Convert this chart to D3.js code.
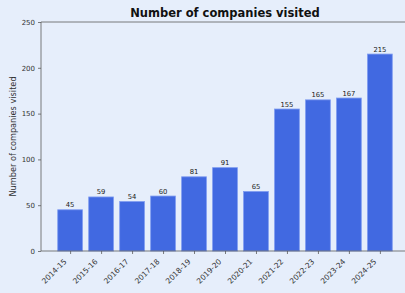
<!DOCTYPE html>
<html><head><meta charset="utf-8">
<script src="https://cdn.jsdelivr.net/npm/d3@7"></script>
<style>html,body{margin:0;padding:0;background:#e6eefb;}svg{display:block;font-family:"DejaVu Sans",sans-serif;}</style>
</head><body>
<script>
const categories = ["2014-15","2015-16","2016-17","2017-18","2018-19","2019-20","2020-21","2021-22","2022-23","2023-24","2024-25"];
const values = [45,59,54,60,81,91,65,155,165,167,215];
const yTicks = [0,50,100,150,200,250];

const W = 405, H = 293;
const svg = d3.select("body").append("svg").attr("width", W).attr("height", H);
svg.append("rect").attr("width", W).attr("height", H).attr("fill", "#e6eefb");

const mL = 41, mR = 409, mT = 22, mB = 251;
const x = d3.scaleLinear().domain([-0.94, categories.length - 1 + 0.94]).range([mL, mR]);
const y = d3.scaleLinear().domain([0, 250]).range([mB, mT]);
const bw = 0.8;

const g = svg.append("g");
g.selectAll("rect.bar").data(values).join("rect").attr("class","bar")
  .attr("x", (d,i) => x(i - bw/2))
  .attr("width", (d,i) => x(i + bw/2) - x(i - bw/2))
  .attr("y", d => y(d))
  .attr("height", d => y(0) - y(d))
  .attr("fill", "#4169e1")
  .attr("stroke", "#7f9cf0").attr("stroke-width", 0.8);

g.selectAll("text.val").data(values).join("text").attr("class","val")
  .attr("x", (d,i) => x(i)).attr("y", d => y(d) - 2.5)
  .attr("text-anchor", "middle").attr("font-size", 6.8).attr("fill", "#222")
  .text(d => d);

// spines
const sp = "#5a5a5a";
svg.append("line").attr("x1", mL).attr("x2", mL).attr("y1", mT).attr("y2", mB).attr("stroke", sp).attr("stroke-width", 0.8);
svg.append("line").attr("x1", mL).attr("x2", mR).attr("y1", mT).attr("y2", mT).attr("stroke", sp).attr("stroke-width", 0.8);
svg.append("line").attr("x1", mL).attr("x2", mR).attr("y1", mB).attr("y2", mB).attr("stroke", sp).attr("stroke-width", 0.8);

// y axis
const yAxis = svg.append("g").attr("transform", `translate(${mL},0)`)
  .call(d3.axisLeft(y).tickValues(yTicks).tickSize(3).tickPadding(3));
yAxis.select(".domain").remove();
yAxis.selectAll("line").attr("stroke", sp).attr("stroke-width", 0.8);
yAxis.selectAll("text").attr("font-size", 7).attr("fill", "#333").attr("font-family", "DejaVu Sans");

// x axis
const xs = d3.scalePoint().domain(categories).range([x(0), x(categories.length-1)]);
const xAxis = svg.append("g").attr("transform", `translate(0,${mB})`)
  .call(d3.axisBottom(xs).tickSize(3).tickPadding(2));
xAxis.select(".domain").remove();
xAxis.selectAll("line").attr("stroke", sp).attr("stroke-width", 0.8);
xAxis.selectAll("text").attr("font-size", 7.5).attr("fill", "#333").attr("font-family", "DejaVu Sans")
  .attr("text-anchor", "end").attr("dy", 0).attr("x", 0).attr("y", 0)
  .attr("transform", "translate(-3.5,11) rotate(-45)");

// title
svg.append("text").attr("x", (mL+mR)/2).attr("y", 17).attr("text-anchor", "middle")
  .attr("font-size", 11.5).attr("font-weight", "bold").attr("fill", "#111").text("Number of companies visited");

// y label
svg.append("text").attr("transform", `translate(15.5,${(mT+mB)/2}) rotate(-90)`)
  .attr("text-anchor", "middle").attr("font-size", 8.2).attr("fill", "#333").text("Number of companies visited");
</script>
</body></html>
